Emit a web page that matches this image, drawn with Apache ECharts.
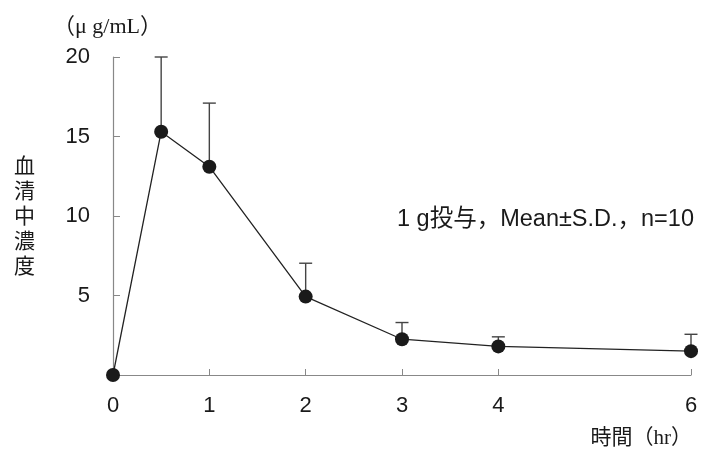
<!DOCTYPE html>
<html><head><meta charset="utf-8">
<script src="https://cdn.jsdelivr.net/npm/echarts@6/dist/echarts.min.js"></script>
<style>html,body{margin:0;padding:0;background:#fff}#c{width:701px;height:452px}</style>
</head><body><div id="c"></div>
<script>
const times = [0, 0.5, 1, 2, 3, 4, 6];
const means = [0, 15.3, 13.1, 4.93, 2.25, 1.8, 1.5];
const upper = [null, 20.0, 17.1, 7.03, 3.3, 2.4, 2.56];
const xTicks = [0, 1, 2, 3, 4, 6];
const yTicks = [0, 5, 10, 15, 20];

const chart = echarts.init(document.getElementById('c'));
const sans = '"Liberation Sans", Arial, "Noto Sans CJK JP", sans-serif';
const serif = '"Liberation Serif", "DejaVu Serif", "Noto Sans CJK JP", serif';
const errData = times.map((t, i) => upper[i] == null ? null : [t, means[i], upper[i]]).filter(d => d);
chart.setOption({
  animation: false,
  grid: {left: 113, right: 10, top: 57, bottom: 77},
  xAxis: {
    type: 'value', min: 0, max: 6, interval: 1,
    axisLine: {lineStyle: {color: '#888', width: 1.2}},
    axisTick: {inside: true, length: 6, customValues: xTicks, lineStyle: {color: '#888'}},
    axisLabel: {customValues: xTicks, margin: 20, fontSize: 22, color: '#1a1a1a', fontFamily: sans},
    splitLine: {show: false}
  },
  yAxis: {
    type: 'value', min: 0, max: 20, interval: 5,
    axisLine: {show: true, lineStyle: {color: '#888', width: 1.2}},
    axisTick: {show: true, inside: true, length: 7, customValues: yTicks, lineStyle: {color: '#888'}},
    axisLabel: {customValues: yTicks, margin: 23, fontSize: 22, color: '#1a1a1a', fontFamily: sans,
      formatter: v => v === 0 ? '' : String(v)},
    splitLine: {show: false}
  },
  graphic: [
    {type: 'text', left: 53, top: 16, style: {text: '（μ g/mL）', fontSize: 22, fill: '#1a1a1a', fontFamily: serif}},
    {type: 'text', left: 14, top: 153, style: {text: '血\n清\n中\n濃\n度', fill: '#1a1a1a', fontSize: 21, fontFamily: '"Noto Sans CJK JP"', lineHeight: 25}},
    {type: 'text', right: 9, top: 428, style: {text: '時間（hr）', fill: '#1a1a1a', fontSize: 21, fontFamily: serif}},
    {type: 'text', left: 397, top: 208, style: {text: '1 g投与，Mean±S.D.，n=10', fill: '#1a1a1a', fontSize: 23.5, fontFamily: sans}}
  ],
  series: [
    {
      type: 'custom', z: 1,
      renderItem: (params, api) => {
        const p0 = api.coord([api.value(0), api.value(1)]);
        const p1 = api.coord([api.value(0), api.value(2)]);
        const w = 6.5;
        return {type: 'group', children: [
          {type: 'line', shape: {x1: p0[0], y1: p0[1], x2: p1[0], y2: p1[1]}, style: {stroke: '#444', lineWidth: 1.4}},
          {type: 'line', shape: {x1: p1[0] - w, y1: p1[1], x2: p1[0] + w, y2: p1[1]}, style: {stroke: '#444', lineWidth: 1.4}}
        ]};
      },
      data: errData
    },
    {
      type: 'line', z: 3,
      data: times.map((t, i) => [t, means[i]]),
      symbol: 'circle', symbolSize: 14,
      lineStyle: {color: '#222', width: 1.3},
      itemStyle: {color: '#1a1a1a'}
    }
  ]
});
</script></body></html>
